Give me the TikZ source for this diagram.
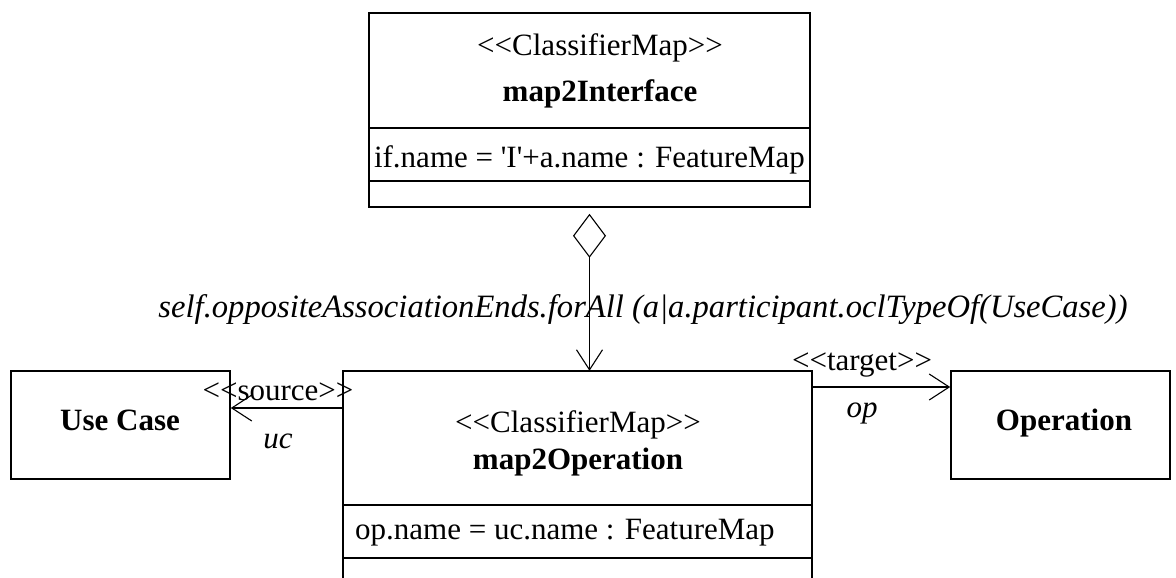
\documentclass[tikz,border=0pt]{standalone}
\usepackage{fontspec}
\newfontfamily\uml{Liberation Serif}
\usetikzlibrary{arrows.meta}
\tikzset{
  box/.style={draw, line width=1.6pt, inner sep=0pt},
  txt/.style={font=\uml\fontsize{31}{37}\selectfont, inner sep=0pt, anchor=base},
  btxt/.style={txt, font=\uml\fontsize{31}{37}\selectfont\bfseries},
  itxt/.style={txt, font=\uml\fontsize{31}{37}\selectfont\itshape},
  conn/.style={line width=1.3pt},
  openv/.style={-{Straight Barb[length=20pt,width=26pt,line width=1.1pt]}},
  agg/.style={{Diamond[open,length=44pt,width=33pt,line width=1.1pt]}-{Straight Barb[length=20pt,width=26pt,line width=1.1pt]}}
}
\begin{document}
\begin{tikzpicture}[x=1pt,y=-1pt]
\useasboundingbox (0,0) rectangle (1176,578);
% map2Interface
\node[box, minimum width=441pt, minimum height=194pt] (mi) at (589.5,110) {};
\draw[line width=1.6pt] (mi.west |- 0,128) -- (mi.east |- 0,128);
\draw[line width=1.6pt] (mi.west |- 0,181) -- (mi.east |- 0,181);
\node[txt] (mis) at (600,56) {<<ClassifierMap>>};
\node[btxt] (min) at (600,102) {map2Interface};
\node[txt] (mia) at (589.5,167) {if.name = 'I'+a.name : FeatureMap};
% map2Operation (cut off at bottom)
\node[inner sep=0pt, minimum width=469pt, minimum height=207pt] (mo) at (577.5,474.5) {};
\draw[line width=1.6pt] (mo.south west) -- (mo.north west) -- (mo.north east) -- (mo.south east);
\draw[line width=1.6pt] (mo.west |- 0,505) -- (mo.east |- 0,505);
\draw[line width=1.6pt] (mo.west |- 0,558) -- (mo.east |- 0,558);
\node[txt] (mos) at (578,432) {<<ClassifierMap>>};
\node[btxt] (mon) at (578,469) {map2Operation};
\node[txt, anchor=base west] (moa) at (355,539) {op.name = uc.name : FeatureMap};
% Use Case
\node[box, minimum width=219pt, minimum height=108pt] (uc) at (120.5,425) {};
\node[btxt] (ucn) at (120,430) {Use Case};
% Operation
\node[box, minimum width=219pt, minimum height=108pt] (op) at (1060.5,425) {};
\node[btxt] (opn) at (1064,430) {Operation};
% connectors
\draw[conn, agg] ([yshift=-6pt]mi.south) -- (mi.south |- mo.north);
\node[itxt, font=\uml\fontsize{32.6}{38}\selectfont\itshape] (ocl) at (643,317) {self.oppositeAssociationEnds.forAll (a|a.participant.oclTypeOf(UseCase))};
\draw[conn, openv] (mo.west |- 0,408) -- (uc.east |- 0,408);
\node[txt] (src) at (278,400) {<<source>>};
\node[itxt] (ucl) at (278,448) {uc};
\draw[conn, openv] (mo.east |- 0,387) -- (op.west |- 0,387);
\node[txt] (tgt) at (862,370) {<<target>>};
\node[itxt] (opl) at (862,417) {op};
\end{tikzpicture}
\end{document}
